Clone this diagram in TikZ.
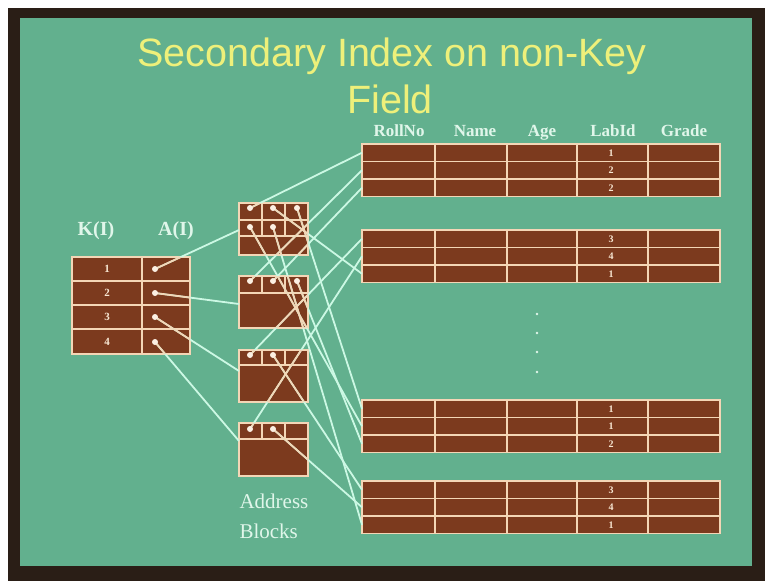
\documentclass[tikz,border=0pt]{standalone}
\usepackage{fontspec}
\setmainfont{Liberation Serif}
\newfontfamily\titlefont{Liberation Sans}
\definecolor{board}{RGB}{98,176,142}
\definecolor{frame}{RGB}{42,30,22}
\definecolor{cell}{RGB}{124,58,30}
\definecolor{rule}{RGB}{244,214,182}
\definecolor{linkc}{RGB}{204,248,228}
\definecolor{titleyellow}{RGB}{238,240,122}
\definecolor{labeltext}{RGB}{224,246,234}

% connectors: index -> address blocks -> record rows
\newcommand\drawlinks[1]{%
  \draw[#1] (k1) -- (e1);
  \draw[#1] (k2) -- (e2);
  \draw[#1] (k3) -- (e3);
  \draw[#1] (k4) -- (e4);
  \draw[#1] (a11) -- (ra1);
  \draw[#1] (a12) -- (rb3);
  \draw[#1] (a13) -- (rc1);
  \draw[#1] (a14) -- (rc2);
  \draw[#1] (a15) -- (rd3);
  \draw[#1] (a21) -- (ra2);
  \draw[#1] (a22) -- (ra3);
  \draw[#1] (a23) -- (rc3);
  \draw[#1] (a31) -- (rb1);
  \draw[#1] (a32) -- (rd1);
  \draw[#1] (a41) -- (rb2);
  \draw[#1] (a42) -- (rd2);
}

\begin{document}
\begin{tikzpicture}[x=1pt,y=-1pt,
  cellbox/.style={fill=cell, draw=rule, line width=1.6pt},
  ruleline/.style={draw=rule, line width=1.6pt},
  linkline/.style={draw=linkc, line width=1.8pt},
  innerlink/.style={draw=rule, line width=1.6pt},
  ptr/.style={circle, fill=rule!40!white, inner sep=0pt, minimum size=6pt},
  gap/.style={circle, fill=labeltext, inner sep=0pt, minimum size=2.8pt},
  head/.style={anchor=base, text=labeltext, font=\bfseries\fontsize{17}{19}\selectfont},
  idxnum/.style={text=rule!60!white, font=\bfseries\fontsize{11}{12}\selectfont},
  labnum/.style={text=rule!60!white, font=\bfseries\fontsize{10}{11}\selectfont},
  titletext/.style={anchor=base, text=titleyellow, inner sep=0pt,
    font=\titlefont\fontsize{39.5}{42}\selectfont}]

\useasboundingbox (0,0) rectangle (765,581);
\fill[white] (0,0) rectangle (765,581);
\fill[frame] (8,8) rectangle (765,581);
\fill[board] (20,18) rectangle (752,566);

% title
\node[titletext] (title1) at (392,66) {Secondary Index on non-Key};
\node[titletext] (title2) at (390,113) {Field};

% column headings
\node[head] (hroll)  at (399,136) {RollNo};
\node[head] (hname)  at (475,136) {Name};
\node[head] (hage)   at (542,136) {Age};
\node[head] (hlab)   at (613,136) {LabId};
\node[head] (hgrade) at (684,136) {Grade};

% data blocks with three records each
\foreach \nm/\t/\p/\q/\r in {ra/144/1/2/2, rb/230/3/4/1, rc/400/1/1/2, rd/481/3/4/1} {
  \path[cellbox] (362,\t) rectangle (720,\t+52.5);
  \draw[ruleline] (362,\t+17.5) -- (720,\t+17.5);
  \draw[ruleline] (362,\t+35) -- (720,\t+35);
  \foreach \cx in {435,507,577,648}
    \draw[ruleline] (\cx,\t) -- (\cx,\t+52.5);
  \node[labnum] at (611,\t+8.75) {\p};
  \node[labnum] at (611,\t+26.25) {\q};
  \node[labnum] at (611,\t+43.75) {\r};
  \coordinate (\nm1) at (362,\t+8.75);
  \coordinate (\nm2) at (362,\t+26.25);
  \coordinate (\nm3) at (362,\t+43.75);
}

% vertical ellipsis between the record blocks
\foreach \gy in {314,333,352,372}
  \node[gap] at (537,\gy) {};

% index table K(I) / A(I)
\node[anchor=base, text=labeltext, font=\bfseries\fontsize{20}{22}\selectfont] (hk) at (96,235) {K(I)};
\node[anchor=base, text=labeltext, font=\bfseries\fontsize{20}{22}\selectfont] (ha) at (176,235) {A(I)};
\path[cellbox] (72,257) rectangle (190,354);
\foreach \ry in {281,305,329}
  \draw[ruleline] (72,\ry) -- (190,\ry);
\draw[ruleline] (142,257) -- (142,354);
\foreach \i/\ky in {1/269,2/293,3/317,4/342} {
  \node[idxnum] (kn\i) at (107,\ky) {\i};
  \coordinate (k\i) at (155,\ky);
}

% address blocks
\path[cellbox] (239,203) rectangle (308,255);
\draw[ruleline] (239,220) -- (308,220);
\draw[ruleline] (239,236) -- (308,236);
\draw[ruleline] (262,203) -- (262,236);
\draw[ruleline] (285,203) -- (285,236);

\path[cellbox] (239,276) rectangle (308,328);
\draw[ruleline] (239,293) -- (308,293);
\draw[ruleline] (262,276) -- (262,293);
\draw[ruleline] (285,276) -- (285,293);

\path[cellbox] (239,350) rectangle (308,402);
\draw[ruleline] (239,365) -- (308,365);
\draw[ruleline] (262,350) -- (262,365);
\draw[ruleline] (285,350) -- (285,365);

\path[cellbox] (239,423) rectangle (308,476);
\draw[ruleline] (239,439) -- (308,439);
\draw[ruleline] (262,423) -- (262,439);
\draw[ruleline] (285,423) -- (285,439);

\coordinate (a11) at (250,208);
\coordinate (a12) at (273,208);
\coordinate (a13) at (297,208);
\coordinate (a14) at (250,227);
\coordinate (a15) at (273,227);
\coordinate (a21) at (250,281);
\coordinate (a22) at (273,281);
\coordinate (a23) at (297,281);
\coordinate (a31) at (250,355);
\coordinate (a32) at (273,355);
\coordinate (a41) at (250,429);
\coordinate (a42) at (273,429);

\coordinate (e1) at (239,230);
\coordinate (e2) at (239,304);
\coordinate (e3) at (239,371);
\coordinate (e4) at (239,441);

\node[anchor=base west, text=labeltext, font=\fontsize{21}{24}\selectfont] (lab1) at (236,508) {Address};
\node[anchor=base west, text=labeltext, font=\fontsize{21}{24}\selectfont] (lab2) at (236,538) {Blocks};

% connectors over the green board
\drawlinks{linkline}
% the same connectors seen over the brown cells
\begin{scope}
  \clip (72,257) rectangle (190,354)
        (239,203) rectangle (308,255)
        (239,276) rectangle (308,328)
        (239,350) rectangle (308,402)
        (239,423) rectangle (308,476);
  \drawlinks{innerlink}
\end{scope}

% pointer dots
\foreach \d in {k1,k2,k3,k4,a11,a12,a13,a14,a15,a21,a22,a23,a31,a32,a41,a42}
  \node[ptr] at (\d) {};
\end{tikzpicture}
\end{document}
